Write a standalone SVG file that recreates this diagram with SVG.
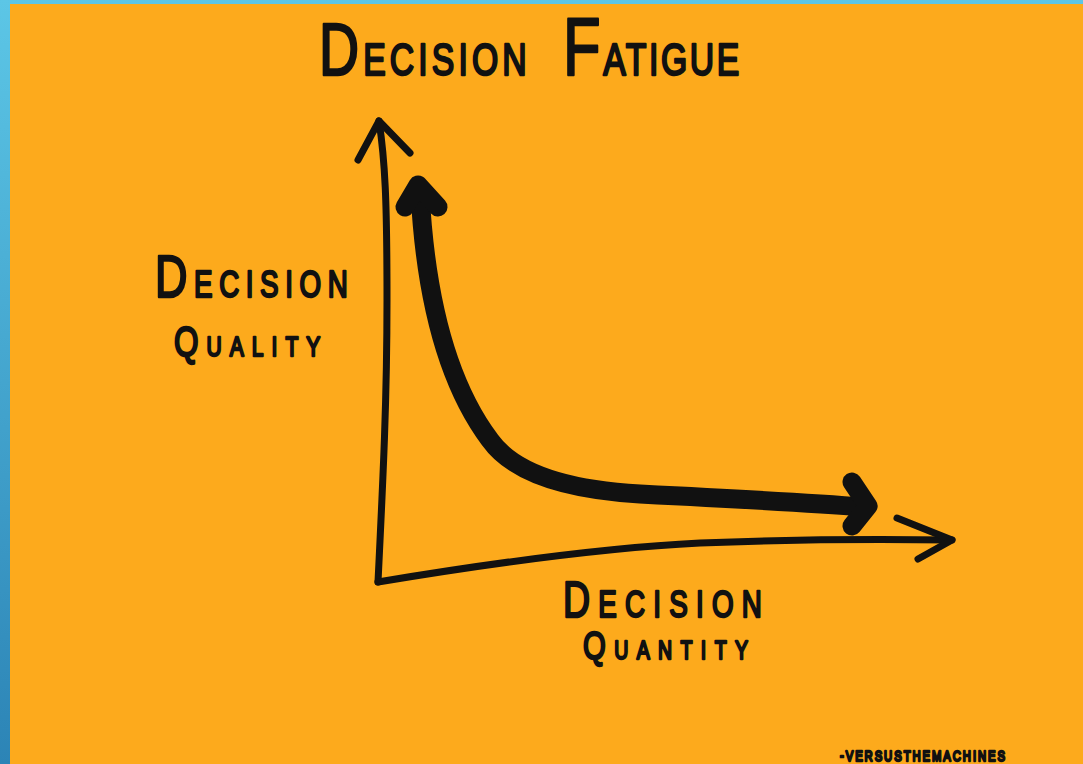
<svg xmlns="http://www.w3.org/2000/svg" width="1083" height="764" viewBox="0 0 1083 764">
<defs>
<linearGradient id="blue" x1="0" y1="0" x2="0" y2="1">
<stop offset="0" stop-color="#5CC6E6"/>
<stop offset="1" stop-color="#2C84B6"/>
</linearGradient>
<style>
.t{font-family:"Liberation Sans","DejaVu Sans",sans-serif;font-weight:normal;fill:#111;stroke:#111;stroke-width:2.4;stroke-linejoin:round;stroke-linecap:round}
.thin{fill:none;stroke:#111;stroke-width:7;stroke-linecap:round;stroke-linejoin:round}
.thick{fill:none;stroke:#111;stroke-width:19;stroke-linecap:round;stroke-linejoin:round}
</style>
</defs>
<rect x="0" y="0" width="1083" height="764" fill="url(#blue)"/>
<rect x="10" y="4" width="1073" height="760" fill="#FDAA1C"/>

<g id="title">
<text class="t" x="0" y="0" transform="translate(319,75) scale(0.75,1)" textLength="277" lengthAdjust="spacing"><tspan font-size="74">D</tspan><tspan font-size="45">ECISION</tspan></text>
<text class="t" x="0" y="0" transform="translate(563,75) scale(0.75,1)" textLength="235" lengthAdjust="spacing"><tspan font-size="82">F</tspan><tspan font-size="45">ATIGUE</tspan></text>
</g>

<g id="y-label">
<text class="t" x="0" y="0" transform="translate(155,297) scale(0.75,1)" textLength="257" lengthAdjust="spacing"><tspan font-size="60">D</tspan><tspan font-size="37">ECISION</tspan></text>
<text class="t" x="0" y="0" transform="translate(174,356) scale(0.75,1)" textLength="195" lengthAdjust="spacing"><tspan font-size="42">Q</tspan><tspan font-size="28">UALITY</tspan></text>
</g>

<g id="x-label">
<text class="t" x="0" y="0" transform="translate(563,617) scale(0.75,1)" textLength="265" lengthAdjust="spacing"><tspan font-size="50">D</tspan><tspan font-size="37">ECISION</tspan></text>
<text class="t" x="0" y="0" transform="translate(583,659) scale(0.75,1)" textLength="220" lengthAdjust="spacing"><tspan font-size="39">Q</tspan><tspan font-size="26">UANTITY</tspan></text>
</g>

<g id="credit">
<text class="t" x="0" y="0" transform="translate(840,761) scale(0.75,1)" font-size="15" stroke-width="0.4" textLength="220" lengthAdjust="spacing">-VERSUSTHEMACHINES</text>
</g>

<g id="connectors">
<path id="y-axis" class="thin" d="M379,121 C385,160 387,200 387,300 C387,400 383,480 378,582"/>
<path class="thin" d="M358,160 L379,121 L410,153"/>
<path id="x-axis" class="thin" d="M378,582 C480,565 600,548 700,543 C800,539 880,539 952,540"/>
<path class="thin" d="M897,518 L952,540 L918,559"/>
<path id="curve" class="thick" d="M420,192 C425,290 445,380 490,440 C515,475 570,490 640,494 C720,498 800,502 864,507"/>
<path class="thick" d="M405,207 L418,185 L438,207"/>
<path class="thick" d="M852,482 L868,506 L852,526"/>
</g>
</svg>
